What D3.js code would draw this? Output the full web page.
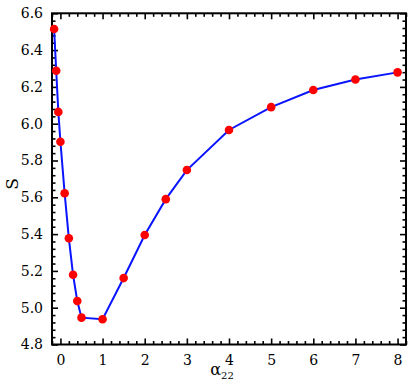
<!DOCTYPE html>
<html><head><meta charset="utf-8">
<script src="https://cdn.jsdelivr.net/npm/d3@7"></script>
<style>body{margin:0;background:#fff}svg{display:block}</style>
</head><body><svg id="c" width="409" height="386"></svg>
<script>
const alpha22 = [-0.15,-0.1,-0.05,0,0.1,0.2,0.3,0.4,0.5,1,1.5,2,2.5,3,4,5,6,7,8];
const S = [6.515,6.288,6.064,5.902,5.622,5.377,5.179,5.036,4.946,4.937,5.161,5.395,5.59,5.748,5.966,6.09,6.183,6.24,6.279];
const xTicks = [0,1,2,3,4,5,6,7,8];
const yTicks = [4.8,5.0,5.2,5.4,5.6,5.8,6.0,6.2,6.4,6.6];
const FONT = "DejaVu Serif";

const svg = d3.select("#c");
const L=52,R=406,T=13.3,B=344.5;
const x = d3.scaleLinear().domain([-0.2,8.2]).range([L,R]);
const y = d3.scaleLinear().domain([4.8,6.6]).range([B,T]);

const xMinor = d3.range(-0.2,8.2001,0.2).map(v=>+v.toFixed(2)).filter(v=>!xTicks.includes(v));
const yMinor = d3.range(4.8,6.6001,0.04).map(v=>+v.toFixed(2)).filter(v=>!yTicks.some(t=>Math.abs(t-v)<1e-6));

const g = svg.append("g");
function axisLines(axisFn, scale, vals, len, tr){
  const a = axisFn(scale).tickValues(vals).tickSize(len).tickFormat("");
  const s = g.append("g").attr("transform",tr).call(a);
  s.select(".domain").remove();
  s.selectAll("line").attr("stroke","#000").attr("stroke-width",1.6);
}
axisLines(d3.axisBottom,x,xTicks,-6,`translate(0,${B})`);
axisLines(d3.axisBottom,x,xMinor,-3.5,`translate(0,${B})`);
axisLines(d3.axisTop,x,xTicks,-6,`translate(0,${T})`);
axisLines(d3.axisTop,x,xMinor,-3.5,`translate(0,${T})`);
axisLines(d3.axisLeft,y,yTicks,-6,`translate(${L},0)`);
axisLines(d3.axisLeft,y,yMinor,-3.5,`translate(${L},0)`);
axisLines(d3.axisRight,y,yTicks,-6,`translate(${R},0)`);
axisLines(d3.axisRight,y,yMinor,-3.5,`translate(${R},0)`);

const xl = g.append("g").attr("transform",`translate(0,${B})`)
  .call(d3.axisBottom(x).tickValues(xTicks).tickSize(0).tickPadding(11).tickFormat(d3.format("d")));
xl.select(".domain").remove();
xl.attr("font-family",FONT).attr("font-size",14);
const yl = g.append("g").attr("transform",`translate(${L},0)`)
  .call(d3.axisLeft(y).tickValues(yTicks).tickSize(0).tickPadding(9).tickFormat(d3.format(".1f")));
yl.select(".domain").remove();
yl.attr("font-family",FONT).attr("font-size",14);

g.append("rect").attr("x",L).attr("y",T).attr("width",R-L).attr("height",B-T)
  .attr("fill","none").attr("stroke","#000").attr("stroke-width",2);

const line = d3.line().x((d,i)=>x(alpha22[i])).y(d=>y(d));
g.append("path").datum(S).attr("d",line).attr("fill","none").attr("stroke","#0a14ff").attr("stroke-width",2);
g.selectAll("circle.p").data(S).join("circle").attr("class","p")
  .attr("cx",(d,i)=>x(alpha22[i])).attr("cy",d=>y(d)).attr("r",4.3).attr("fill","#ff0000");

g.append("text").attr("transform","translate(18,184) rotate(-90)").attr("text-anchor","middle")
  .attr("font-family",FONT).attr("font-size",17).text("S");
const xt = g.append("text").attr("x",222).attr("y",375).attr("text-anchor","middle")
  .attr("font-family",FONT).attr("font-size",16);
xt.append("tspan").text("α");
xt.append("tspan").attr("dy",4).attr("font-size",10).text("22");
</script></body></html>
